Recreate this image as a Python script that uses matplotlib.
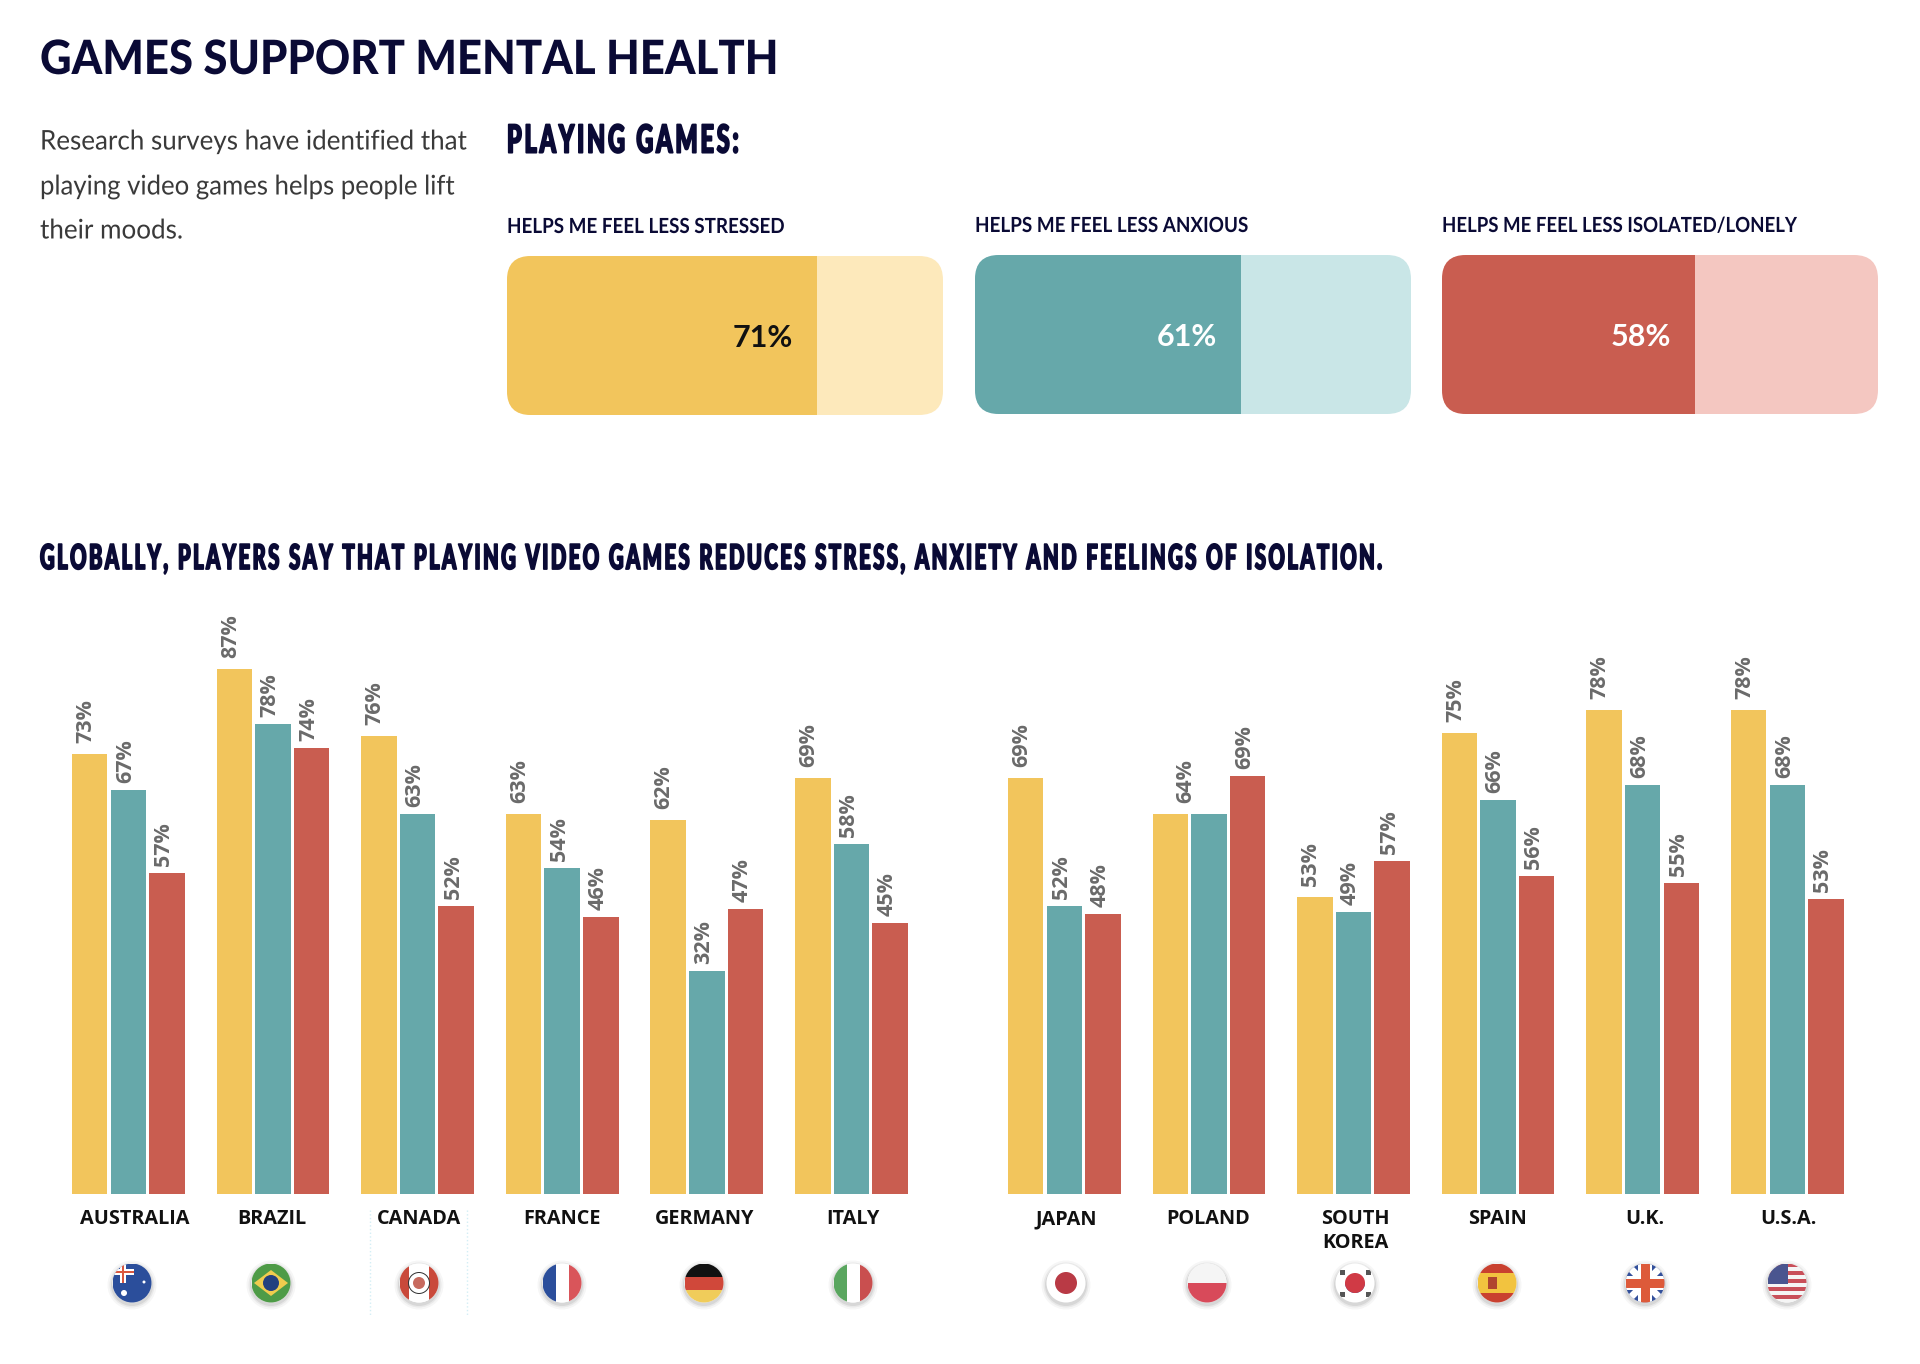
import matplotlib
matplotlib.use("Agg")
import matplotlib.pyplot as plt
import numpy as np
from matplotlib.patches import Circle, FancyBboxPatch, Rectangle
from matplotlib.patheffects import AbstractPathEffect
from matplotlib.transforms import Affine2D

countries = ["AUSTRALIA", "BRAZIL", "CANADA", "FRANCE", "GERMANY", "ITALY",
             "JAPAN", "POLAND", "SOUTH\nKOREA", "SPAIN", "U.K.", "U.S.A."]

# bar heights as drawn in the picture (they do not always agree with the printed labels)
stressed = [73, 87, 76, 63, 62, 69, 69, 63, 49.3, 76.5, 80.3, 80.3]
anxious = [67, 78, 63, 54, 37, 58, 47.8, 63, 46.8, 65.3, 67.8, 67.8]
lonely = [53.2, 74, 47.7, 45.9, 47.2, 45, 46.5, 69.3, 55.3, 52.8, 51.5, 49]

# printed labels
stressed_labels = ["73%", "87%", "76%", "63%", "62%", "69%", "69%", "64%", "53%", "75%", "78%", "78%"]
anxious_labels = ["67%", "78%", "63%", "54%", "32%", "58%", "52%", "", "49%", "66%", "68%", "68%"]
lonely_labels = ["57%", "74%", "52%", "46%", "47%", "45%", "48%", "69%", "57%", "56%", "55%", "53%"]

kpi_titles = ["HELPS ME FEEL LESS STRESSED", "HELPS ME FEEL LESS ANXIOUS", "HELPS ME FEEL LESS ISOLATED/LONELY"]
kpi_title_w = [277, 273, 354]
kpi_values = [71, 61, 58]

YELLOW = "#F2C55C"
TEAL = "#66A8AA"
RED = "#C95D50"
NAVY = "#0A0A35"


class Squeeze(AbstractPathEffect):
    # reshapes a text, there is no condensed font installed
    def __init__(self, sx, x0, sy=1, y0=0, stroke=0):
        super().__init__()
        self.sx = sx
        self.x0 = x0
        self.sy = sy
        self.y0 = y0
        self.stroke = stroke

    def draw_path(self, renderer, gc, tpath, affine, rgbFace=None):
        shape = Affine2D().translate(-self.x0, -self.y0).scale(self.sx, self.sy).translate(self.x0, self.y0)
        if self.stroke:
            gc2 = renderer.new_gc()
            gc2.copy_properties(gc)
            gc2.set_linewidth(self.stroke)
            gc2.set_foreground(rgbFace)
            renderer.draw_path(gc2, tpath, affine + shape, rgbFace)
            gc2.restore()
        else:
            renderer.draw_path(gc, tpath, affine + shape, rgbFace)


fig = plt.figure(figsize=(19.2, 13.64), dpi=100, facecolor="white")
renderer = fig.canvas.get_renderer()

# page layer in pixel coordinates, for the text and the flags
page = fig.add_axes([0, 0, 1, 1])
page.set_xlim(0, 1920)
page.set_ylim(1364, 0)
page.axis("off")


def put(x, y, s, size, family="Lato", weight="normal", color=NAVY, ha="left", width=None, stretch=1, stroke=0):
    t = page.text(x, y, s, fontsize=size, family=family, weight=weight, color=color,
                  ha=ha, va="center", linespacing=1.15)
    if width is not None:
        sx = width / t.get_window_extent(renderer).width
        t.set_path_effects([Squeeze(sx, x, stretch, 1364 - y, stroke)])
    return t


def tracked(s):
    # hair spaces give the poster headings their wide letter spacing
    return "\u200a\u200a".join(s)


put(40, 60, "GAMES SUPPORT MENTAL HEALTH", 34, weight="black", width=739)
put(40, 142, "Research surveys have identified that", 19.5, color="#3A3A3A", width=427)
put(40, 187, "playing video games helps people lift", 19.5, color="#3A3A3A", width=415)
put(40, 231, "their moods.", 19.5, color="#3A3A3A", width=143)
put(507, 141, tracked("PLAYING GAMES:"), 18, family=["Lato", "DejaVu Sans"], weight="black", width=233,
    stretch=1.55, stroke=1.3)
put(40, 559, tracked("GLOBALLY, PLAYERS SAY THAT PLAYING VIDEO GAMES REDUCES STRESS, ANXIETY AND FEELINGS OF ISOLATION."),
    16, family=["Lato", "DejaVu Sans"], weight="black", width=1342, stretch=1.55, stroke=1.2)

# three big percentage panels
panel_x = [507, 975, 1442]
panel_y = [256, 255, 255]
panel_w = 436
panel_h = 159
panel_r = 24
panel_dark = [YELLOW, TEAL, RED]
panel_light = ["#FDE9BB", "#C9E6E7", "#F4C7C1"]
panel_text = ["#111111", "white", "white"]

for i in range(3):
    x, y = panel_x[i], panel_y[i]
    back = FancyBboxPatch((x + panel_r, y + panel_r), panel_w - 2 * panel_r, panel_h - 2 * panel_r,
                          boxstyle="round,pad=%d,rounding_size=%d" % (panel_r, panel_r),
                          facecolor=panel_light[i], edgecolor="none")
    page.add_patch(back)
    fill = page.barh(y + panel_h / 2, panel_w * kpi_values[i] / 100, height=panel_h, left=x, color=panel_dark[i])
    fill[0].set_clip_path(back)
    put(x, y - 29, kpi_titles[i], 15, weight="bold", width=kpi_title_w[i])
    put(x + panel_w * kpi_values[i] / 100 - 24, y + 82, "%d%%" % kpi_values[i], 22, weight="bold",
        color=panel_text[i], ha="right")
page.set_xlim(0, 1920)
page.set_ylim(1364, 0)

# grouped bars, one x unit = one country group
ax = fig.add_axes([0, (1364 - 1194) / 1364, 1, 594 / 1364])
ax.patch.set_alpha(0)
group_step = 144.6
bar_step = 38.6 / group_step
bar_w = 35.5 / group_step
ax.set_xlim(-128.35 / group_step, (1920 - 128.35) / group_step)
ax.set_ylim(0, 594 / 6.03)
ax.axis("off")

pos = np.arange(12, dtype=float)
pos[6:] += 0.473

series = [(stressed, stressed_labels, YELLOW, -1, 11, -4),
          (anxious, anxious_labels, TEAL, 0, 7, -3),
          (lonely, lonely_labels, RED, 1, 7, -3)]
for values, labels, color, side, gap, dx in series:
    xs = pos + side * bar_step
    ax.bar(xs, values, width=bar_w, color=color)
    for k in range(12):
        if labels[k] == "":
            continue
        nudge = 15 if countries[k] == "POLAND" and side == -1 else dx
        ax.annotate(labels[k], (xs[k], values[k]), xytext=(nudge, gap), textcoords="offset pixels",
                    rotation=90, ha="center", va="bottom", fontsize=15.5, family="Open Sans",
                    weight="bold", color="#6A6A6A")

# country names and flags
flag_x = [132, 271, 419, 562, 704, 853, 1066, 1207, 1355, 1497, 1645, 1787]
label_x = [135, 272, 419, 562, 705, 853, 1066, 1208, 1355, 1497, 1645, 1788]
for k in range(12):
    page.text(label_x[k], 1209, countries[k], fontsize=14.3, family="Open Sans", weight="bold",
              color="#111111", ha="center", va="top", linespacing=1.25)

# dotted frame left around the Canada flag
for x in (370, 467):
    page.plot([x, x], [1210, 1315], color="#D3EEF5", lw=1, ls=":")

FLAG_R = 19.5
FLAG_Y = 1283


def disc(x):
    for r, a in ((FLAG_R + 5, 0.05), (FLAG_R + 3, 0.08), (FLAG_R + 1.5, 0.12)):
        page.add_patch(Circle((x, FLAG_Y + 2), r, color="#555555", alpha=a, lw=0))
    c = Circle((x, FLAG_Y), FLAG_R, facecolor="white", edgecolor="none", zorder=3)
    page.add_patch(c)
    return c


def rect(x0, y0, w, h, color, clip):
    r = Rectangle((x0, y0), w, h, facecolor=color, edgecolor="none", zorder=4)
    page.add_patch(r)
    r.set_clip_path(clip)


def round_mark(x, y, r, color, clip):
    m = Circle((x, y), r, facecolor=color, edgecolor="none", zorder=5)
    page.add_patch(m)
    m.set_clip_path(clip)


def h_bands(x, colors, clip):
    h = 2 * FLAG_R / len(colors)
    for i, col in enumerate(colors):
        rect(x - FLAG_R, FLAG_Y - FLAG_R + i * h, 2 * FLAG_R, h, col, clip)


def v_bands(x, colors, clip):
    w = 2 * FLAG_R / len(colors)
    for i, col in enumerate(colors):
        rect(x - FLAG_R + i * w, FLAG_Y - FLAG_R, w, 2 * FLAG_R, col, clip)


def union_cross(x, y, w, h, clip):
    rect(x - w, y - h * 0.35, 2 * w, h * 0.7, "white", clip)
    rect(x - h * 0.35, y - w, h * 0.7, 2 * w, "white", clip)
    rect(x - w, y - h * 0.18, 2 * w, h * 0.36, "#D9573F", clip)
    rect(x - h * 0.18, y - w, h * 0.36, 2 * w, "#D9573F", clip)


c = disc(flag_x[0])
rect(flag_x[0] - FLAG_R, FLAG_Y - FLAG_R, 2 * FLAG_R, 2 * FLAG_R, "#2B4E9B", c)
union_cross(flag_x[0] - 9, FLAG_Y - 11, 11, 8, c)
round_mark(flag_x[0] - 8, FLAG_Y + 10, 3, "white", c)
round_mark(flag_x[0] + 12, FLAG_Y - 1, 1.5, "white", c)

c = disc(flag_x[1])
rect(flag_x[1] - FLAG_R, FLAG_Y - FLAG_R, 2 * FLAG_R, 2 * FLAG_R, "#4E9B47", c)
d = plt.Polygon([(flag_x[1] - 17, FLAG_Y), (flag_x[1], FLAG_Y - 13), (flag_x[1] + 17, FLAG_Y),
                 (flag_x[1], FLAG_Y + 13)], facecolor="#F0CC4E", edgecolor="none", zorder=5)
page.add_patch(d)
round_mark(flag_x[1], FLAG_Y, 8, "#23407F", c)

c = disc(flag_x[2])
v_bands(flag_x[2], ["#C9493A", "white", "white", "#C9493A"], c)
round_mark(flag_x[2], FLAG_Y, 11, "#333333", c)
round_mark(flag_x[2], FLAG_Y, 10, "white", c)
round_mark(flag_x[2], FLAG_Y, 6, "#C76A5E", c)

c = disc(flag_x[3])
v_bands(flag_x[3], ["#2B4E9B", "white", "#D9555A"], c)

c = disc(flag_x[4])
h_bands(flag_x[4], ["#111111", "#D0483A", "#F0CC5A"], c)

c = disc(flag_x[5])
v_bands(flag_x[5], ["#5AA65F", "white", "#C94F4F"], c)

c = disc(flag_x[6])
round_mark(flag_x[6], FLAG_Y, 11, "#B93A45", c)

c = disc(flag_x[7])
h_bands(flag_x[7], ["#F5F5F5", "#D84A5A"], c)

c = disc(flag_x[8])
round_mark(flag_x[8], FLAG_Y, 10, "#D03A45", c)
rect(flag_x[8] - 10, FLAG_Y, 20, 10, "#2B55A5", Circle((flag_x[8], FLAG_Y), 10, transform=page.transData))
for sx in (-1, 1):
    for sy in (-1, 1):
        rect(flag_x[8] + sx * 13 - 2.5, FLAG_Y + sy * 11 - 2.5, 5, 5, "#555555", c)

c = disc(flag_x[9])
h_bands(flag_x[9], ["#C9402F", "#F2C33F", "#F2C33F", "#C9402F"], c)
rect(flag_x[9] - 9, FLAG_Y - 6, 9, 12, "#B0452F", c)

c = disc(flag_x[10])
rect(flag_x[10] - FLAG_R, FLAG_Y - FLAG_R, 2 * FLAG_R, 2 * FLAG_R, "#33509B", c)
for sgn in (-1, 1):
    p = plt.Polygon([(flag_x[10] - FLAG_R, FLAG_Y - sgn * FLAG_R), (flag_x[10] + FLAG_R, FLAG_Y + sgn * FLAG_R)],
                    closed=False, edgecolor="white", lw=5, zorder=4)
    page.add_patch(p)
    p.set_clip_path(c)
rect(flag_x[10] - FLAG_R, FLAG_Y - 7, 2 * FLAG_R, 14, "white", c)
rect(flag_x[10] - 7, FLAG_Y - FLAG_R, 14, 2 * FLAG_R, "white", c)
rect(flag_x[10] - FLAG_R, FLAG_Y - 4.5, 2 * FLAG_R, 9, "#DD5A3A", c)
rect(flag_x[10] - 4.5, FLAG_Y - FLAG_R, 9, 2 * FLAG_R, "#DD5A3A", c)

c = disc(flag_x[11])
h_bands(flag_x[11], ["#C9505A", "#F5F5F5"] * 5, c)
rect(flag_x[11] - FLAG_R, FLAG_Y - FLAG_R, FLAG_R + 1, FLAG_R + 1, "#4A558F", c)

fig.savefig("out.png", dpi=100)
